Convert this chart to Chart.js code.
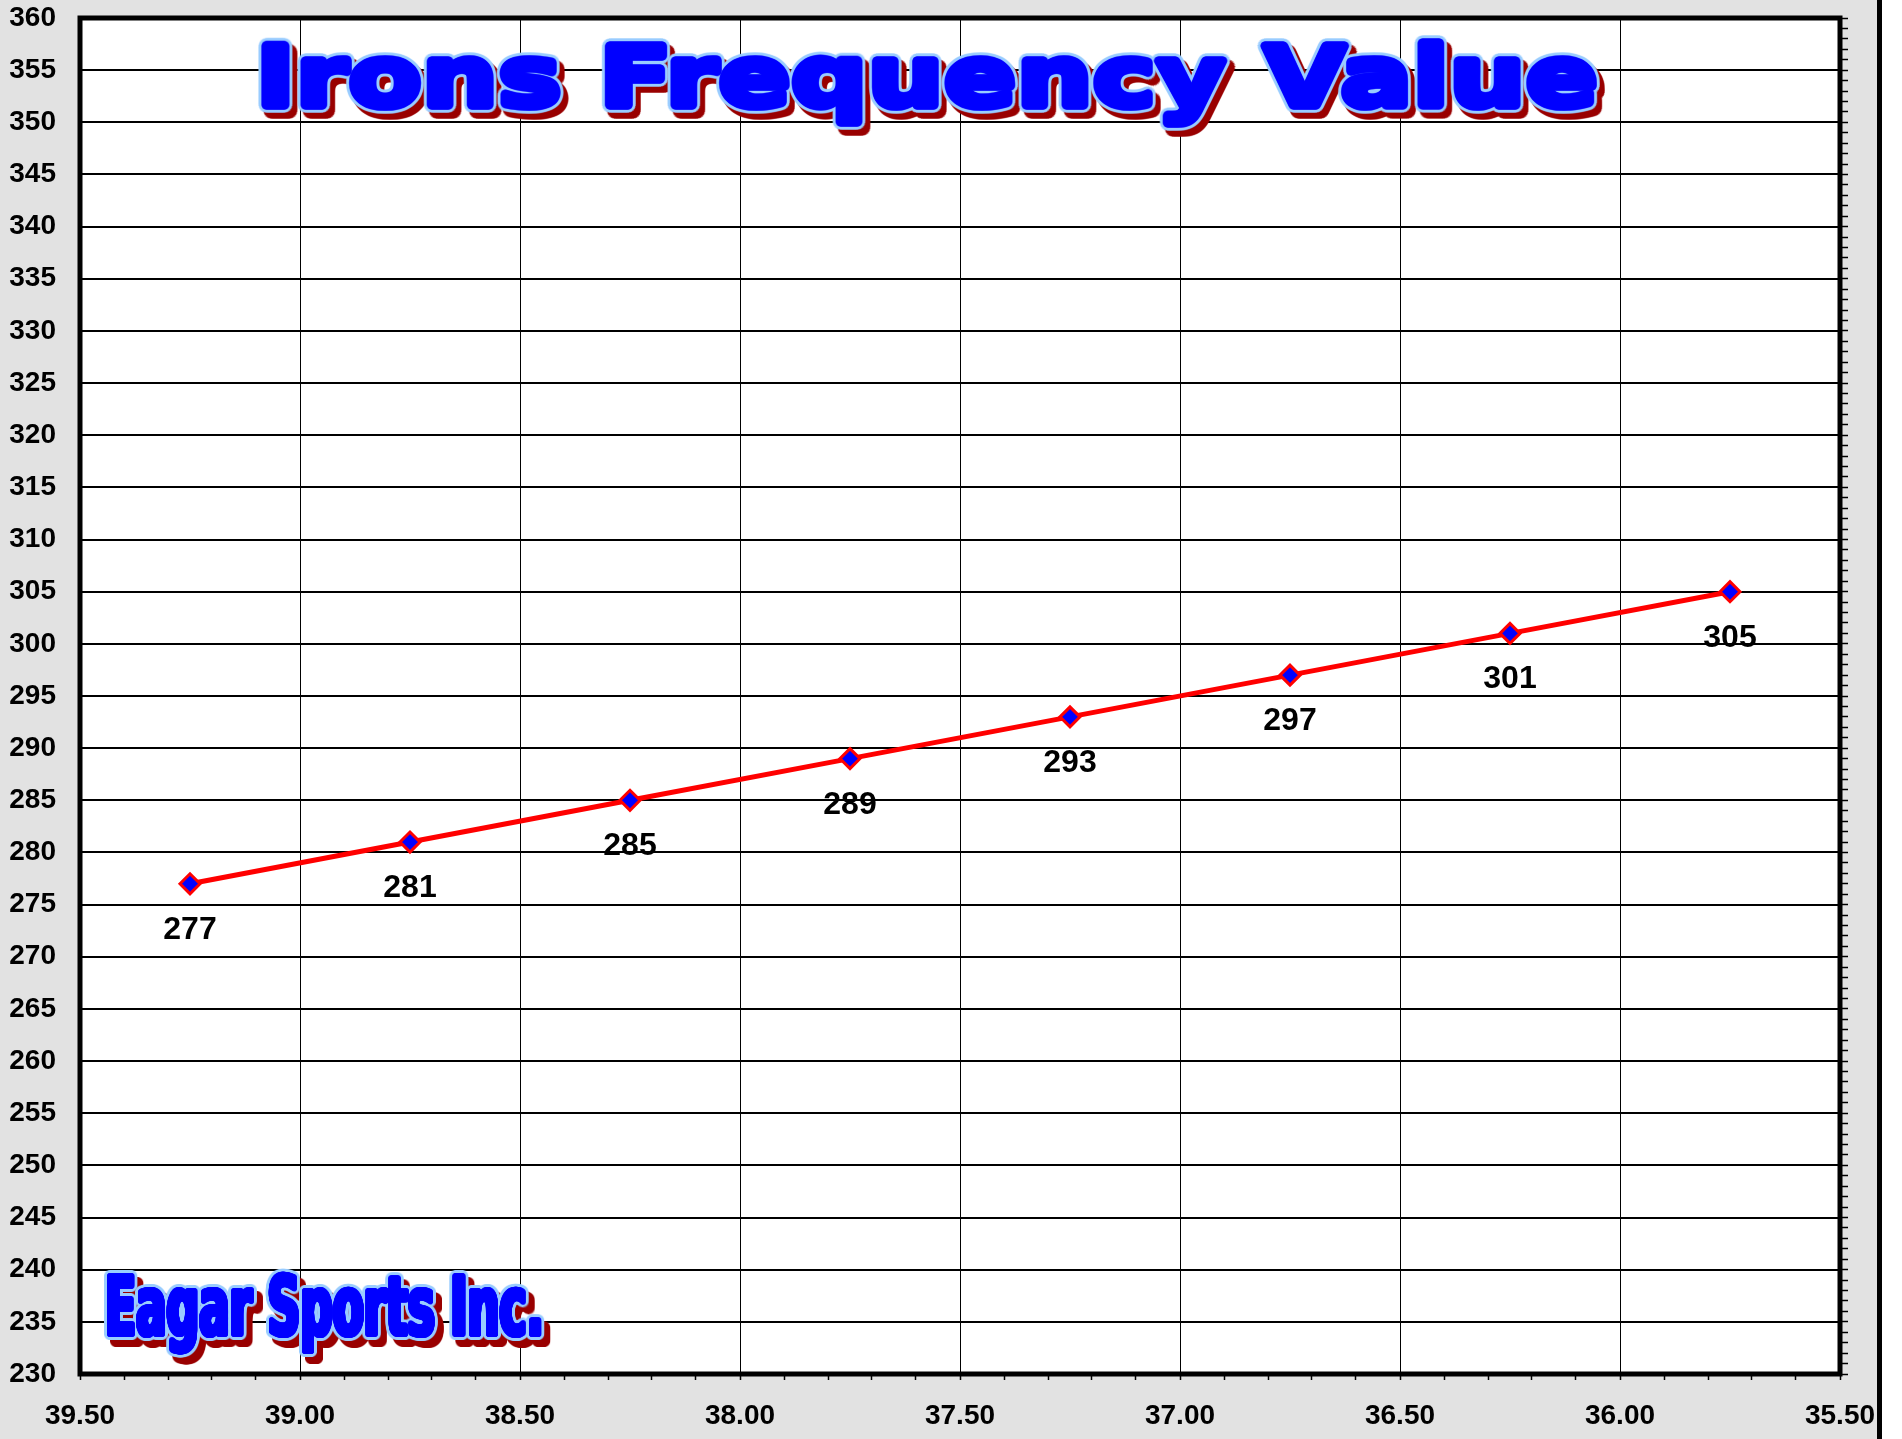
<!DOCTYPE html>
<html>
<head>
<meta charset="utf-8">
<title>Irons Frequency Value</title>
<script src="https://cdn.jsdelivr.net/npm/chart.js@4/dist/chart.umd.min.js"></script>
<style>
  html, body { margin: 0; padding: 0; background: #fff; }
  #wrap {
    width: 1902px;
    height: 1439px;
    background: linear-gradient(to right, #e2e2e2 0, #e2e2e2 1877px, #000 1877px, #000 1882px, #fff 1882px);
  }
</style>
</head>
<body>
<div id="wrap"><canvas id="chart"></canvas></div>
<script>
// shaft length (inches) vs frequency value, one point per iron
const shaftLength = [39.25, 38.75, 38.25, 37.75, 37.25, 36.75, 36.25, 35.75];
const frequency = [277, 281, 285, 289, 293, 297, 301, 305];

const xMin = 35.5, xMax = 39.5;
const yMin = 230, yMax = 360;

const titleText = "Irons Frequency Value";
const logoText = "Eagar Sports Inc.";

const labelFont = { family: "'Liberation Sans', Arial, sans-serif", size: 28, weight: "bold" };

const isMajor = v => Math.abs(v * 2 - Math.round(v * 2)) < 1e-6;

function makeCanvas(w, h) {
  const c = document.createElement("canvas");
  c.width = w;
  c.height = h;
  return c;
}

function dilate(src, r) {
  const out = makeCanvas(src.width, src.height);
  const o = out.getContext("2d");
  o.drawImage(src, 0, 0);
  if (r <= 0) return out;
  for (const rr of [r, r * 3 / 4, r / 2, r / 4]) {
    for (let k = 0; k < 24; k++) {
      const a = (k / 24) * Math.PI * 2;
      o.drawImage(src, Math.cos(a) * rr, Math.sin(a) * rr);
    }
  }
  return out;
}

function tint(c, color) {
  const t = c.getContext("2d");
  t.globalCompositeOperation = "source-in";
  t.fillStyle = color;
  t.fillRect(0, 0, c.width, c.height);
  return c;
}

// WordArt style text: blue face, light blue rim, dark red drop shadow
function drawWordArt(ctx, o) {
  const pad = 30;
  const boxH = o.baseline - o.capTop;
  const ox = o.left - pad, oy = o.capTop - pad;
  const w = Math.ceil(o.right - o.left + pad * 2);
  const h = Math.ceil(boxH * 1.5 + pad * 2);

  const base = makeCanvas(w, h);
  const g = base.getContext("2d");
  g.font = o.font;
  g.textAlign = "left";
  g.textBaseline = "alphabetic";
  const m = g.measureText(o.text);
  const cap = g.measureText("I").actualBoundingBoxAscent;
  const rawW = m.actualBoundingBoxLeft + m.actualBoundingBoxRight;
  const b = o.bold;
  const sx = (o.right - o.left - 2 * b) / rawW;
  const sy = (boxH - 2 * b) / cap;
  const tx = o.left + b + m.actualBoundingBoxLeft * sx - ox;
  const ty = o.baseline - b - oy;
  g.setTransform(sx, 0, 0, sy, tx, ty);
  g.fillStyle = "#000";
  g.fillText(o.text, 0, 0);

  const face = tint(dilate(base, b), o.face);
  const rim = tint(dilate(base, b + o.rimWidth), o.rim);
  const shadow = tint(dilate(base, b + o.rimWidth), o.shadow);

  ctx.save();
  ctx.setTransform(1, 0, 0, 1, 0, 0);
  ctx.drawImage(shadow, ox + o.shadowDx, oy + o.shadowDy);
  ctx.drawImage(rim, ox, oy);
  ctx.drawImage(face, ox, oy);
  ctx.restore();
}

const framePlugin = {
  id: "frame",
  beforeDraw(chart) {
    const { ctx, chartArea: a } = chart;
    ctx.save();
    ctx.fillStyle = "#fff";
    ctx.fillRect(a.left, a.top, a.right - a.left, a.bottom - a.top);
    ctx.restore();
  },
  beforeDatasetsDraw(chart) {
    const { ctx, chartArea: a } = chart;
    ctx.save();
    ctx.strokeStyle = "#000";
    ctx.lineWidth = 5;
    ctx.strokeRect(a.left, a.top, a.right - a.left, a.bottom - a.top);
    ctx.restore();
  }
};

const pointLabelPlugin = {
  id: "pointLabels",
  afterDatasetsDraw(chart) {
    const { ctx } = chart;
    const meta = chart.getDatasetMeta(0);
    ctx.save();
    ctx.font = "bold 32px 'Liberation Sans', Arial, sans-serif";
    ctx.fillStyle = "#000";
    ctx.textAlign = "center";
    ctx.textBaseline = "alphabetic";
    meta.data.forEach((el, i) => {
      ctx.fillText(String(frequency[i]), el.x, el.y + 55);
    });
    ctx.restore();
  }
};

const wordArtPlugin = {
  id: "wordArt",
  afterDraw(chart) {
    const ctx = chart.ctx;
    drawWordArt(ctx, {
      text: titleText,
      font: "bold 96px 'DejaVu Sans', sans-serif",
      left: 261, right: 1597, capTop: 40, baseline: 109,
      bold: 3.5, rimWidth: 3, shadowDx: 5, shadowDy: 6,
      face: "#0000ff", rim: "#99ccff", shadow: "#990000"
    });
    drawWordArt(ctx, {
      text: logoText,
      font: "bold 88px 'Liberation Sans Narrow', 'DejaVu Sans Condensed', sans-serif",
      left: 107, right: 541, capTop: 1273, baseline: 1337,
      bold: 2, rimWidth: 3, shadowDx: 6, shadowDy: 7,
      face: "#0000ff", rim: "#99ccff", shadow: "#990000"
    });
  }
};

new Chart(document.getElementById("chart"), {
  type: "line",
  data: {
    datasets: [{
      label: "Frequency",
      data: shaftLength.map((x, i) => ({ x, y: frequency[i] })),
      borderColor: "#ff0000",
      borderWidth: 5,
      tension: 0,
      pointStyle: "rectRot",
      pointRadius: 10,
      pointBorderWidth: 3,
      pointBackgroundColor: "#0000ff",
      pointBorderColor: "#ff0000"
    }]
  },
  options: {
    responsive: true,
    maintainAspectRatio: false,
    animation: false,
    layout: { padding: { top: 18, left: 0, right: 0, bottom: 0 } },
    plugins: {
      legend: { display: false },
      tooltip: { enabled: false }
    },
    scales: {
      x: {
        type: "linear",
        position: "bottom",
        reverse: true,
        min: xMin,
        max: xMax,
        border: { display: false },
        grid: {
          color: c => (c.tick && isMajor(c.tick.value)) ? "#000" : "transparent",
          lineWidth: 1,
          drawTicks: true,
          tickLength: 6,
          tickColor: "#000",
          tickWidth: 1.5
        },
        ticks: {
          stepSize: 0.1,
          autoSkip: false,
          maxRotation: 0,
          minRotation: 0,
          padding: 19,
          color: "#000",
          font: labelFont,
          callback: v => isMajor(v) ? Number(v).toFixed(2) : ""
        },
        afterFit: s => { s.height = 65; s.paddingLeft = 0; s.paddingRight = 0; }
      },
      y: {
        position: "left",
        min: yMin,
        max: yMax,
        border: { display: false },
        grid: { color: "#000", lineWidth: 2, drawTicks: false },
        ticks: {
          stepSize: 5,
          padding: 24,
          color: "#000",
          font: labelFont
        },
        afterFit: s => { s.width = 80; s.paddingTop = 0; s.paddingBottom = 0; }
      },
      y2: {
        position: "right",
        min: yMin,
        max: yMax,
        border: { display: false },
        grid: {
          drawOnChartArea: false,
          drawTicks: true,
          tickLength: 8,
          tickColor: "#000",
          tickWidth: 1.5
        },
        ticks: { display: false, stepSize: 1 },
        afterFit: s => { s.width = 62; s.paddingTop = 0; s.paddingBottom = 0; }
      }
    }
  },
  plugins: [framePlugin, pointLabelPlugin, wordArtPlugin]
});
</script>
</body>
</html>
